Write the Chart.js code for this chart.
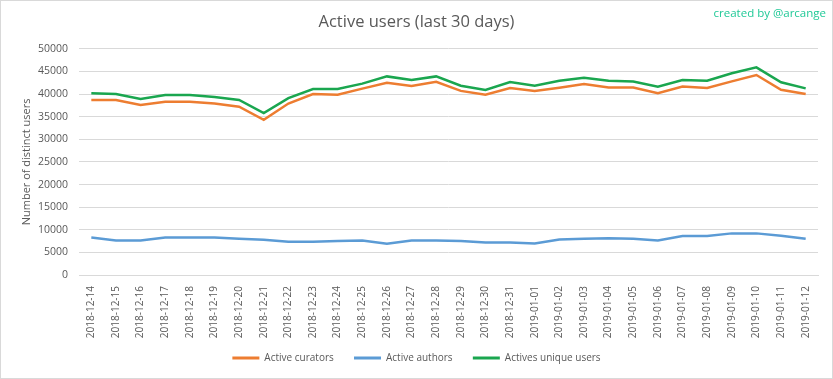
<!DOCTYPE html>
<html>
<head>
<meta charset="utf-8">
<script src="https://cdn.jsdelivr.net/npm/chart.js@4.4.1/dist/chart.umd.min.js"></script>
<style>
  html, body { margin: 0; padding: 0; background: #fff; }
  #wrap { position: relative; width: 833px; height: 379px; }
</style>
</head>
<body>
<div id="wrap"><canvas id="chart"></canvas></div>
<script>
const days = [
    '2018-12-14', '2018-12-15', '2018-12-16', '2018-12-17', '2018-12-18', '2018-12-19',
    '2018-12-20', '2018-12-21', '2018-12-22', '2018-12-23', '2018-12-24', '2018-12-25',
    '2018-12-26', '2018-12-27', '2018-12-28', '2018-12-29', '2018-12-30', '2018-12-31',
    '2019-01-01', '2019-01-02', '2019-01-03', '2019-01-04', '2019-01-05', '2019-01-06',
    '2019-01-07', '2019-01-08', '2019-01-09', '2019-01-10', '2019-01-11', '2019-01-12'
];
const curators = [
    38700, 38700, 37600, 38300, 38300, 37900, 37200, 34300, 37900, 40000,
    39850, 41200, 42500, 41800, 42700, 40700, 39850, 41350, 40700, 41400,
    42200, 41450, 41450, 40200, 41650, 41350, 42800, 44200, 40950, 40000
];
const authors = [
    8300, 7650, 7650, 8300, 8300, 8300, 8000, 7800, 7350, 7350,
    7500, 7650, 6900, 7600, 7650, 7500, 7200, 7200, 6950, 7850,
    8000, 8100, 8000, 7650, 8600, 8600, 9200, 9200, 8700, 8000
];
const uniques = [
    40200, 40000, 38900, 39800, 39800, 39350, 38700, 35800, 39100, 41100,
    41100, 42300, 43900, 43100, 43900, 41850, 40900, 42650, 41850, 42950,
    43600, 42950, 42750, 41600, 43100, 42950, 44600, 45900, 42600, 41250
];

const textGrey = '#595959';
const gridGrey = '#d9d9d9';

// frame round the whole chart + the "created by" note
const decorations = {
    id: 'decorations',
    afterDraw(chart) {
        const ctx = chart.ctx;
        ctx.save();
        ctx.strokeStyle = gridGrey;
        ctx.lineWidth = 1;
        ctx.strokeRect(0.5, 0.5, chart.width - 1, chart.height - 1);
        ctx.font = '11.5px "Open Sans"';
        ctx.fillStyle = '#20c997';
        ctx.textAlign = 'right';
        ctx.textBaseline = 'middle';
        ctx.fillText('created by @arcange', 826, 14);
        ctx.restore();
    }
};

function line(label, data, color) {
    return {
        label: label,
        data: data,
        borderColor: color,
        backgroundColor: color,
        borderWidth: 2.5,
        pointRadius: 0,
        tension: 0
    };
}

new Chart(document.getElementById('chart'), {
    type: 'line',
    data: {
        labels: days,
        datasets: [
            line('Active curators', curators, '#ed7d31'),
            line('Active authors', authors, '#5b9bd5'),
            line('Actives unique users', uniques, '#1aa64f')
        ]
    },
    options: {
        responsive: true,
        maintainAspectRatio: false,
        animation: false,
        layout: { padding: { left: 0, right: 0, top: 0, bottom: 6 } },
        plugins: {
            title: {
                display: true,
                text: 'Active users (last 30 days)',
                color: textGrey,
                font: { family: 'Open Sans', size: 16.5, weight: 'normal' },
                padding: { top: 12, bottom: 17 }
            },
            legend: {
                position: 'bottom',
                labels: {
                    color: textGrey,
                    font: { family: 'Open Sans', size: 10 },
                    boxWidth: 27,
                    boxHeight: 3,
                    padding: 15,
                    generateLabels(chart) {
                        const items = Chart.defaults.plugins.legend.labels.generateLabels(chart);
                        items.forEach((it, i) => {
                            it.lineWidth = 0;
                            // a little more room between entries
                            if (i < items.length - 1) it.text += '  ';
                        });
                        return items;
                    }
                }
            },
            tooltip: { enabled: false }
        },
        scales: {
            x: {
                offset: true,
                grid: { display: false },
                border: { color: gridGrey },
                ticks: {
                    color: textGrey,
                    font: { family: 'Open Sans', size: 10 },
                    autoSkip: false,
                    minRotation: 90,
                    maxRotation: 90
                },
                afterFit(scale) { scale.height = 63; }
            },
            y: {
                min: 0,
                max: 50000,
                grid: { color: gridGrey, drawTicks: false },
                border: { display: false },
                ticks: {
                    stepSize: 5000,
                    color: textGrey,
                    font: { family: 'Open Sans', size: 10.5 },
                    padding: 11,
                    callback: v => String(v)
                },
                title: {
                    display: true,
                    text: 'Number of distinct users',
                    color: textGrey,
                    font: { family: 'Open Sans', size: 11 },
                    padding: { top: 20, bottom: 0 }
                },
                afterFit(scale) { scale.width = 79; }
            },
            // empty strip on the right so the plot stops short of the frame
            yRight: {
                position: 'right',
                grid: { display: false },
                border: { display: false },
                ticks: { display: false },
                afterFit(scale) { scale.width = 15; }
            }
        }
    },
    plugins: [decorations]
});
</script>
</body>
</html>
